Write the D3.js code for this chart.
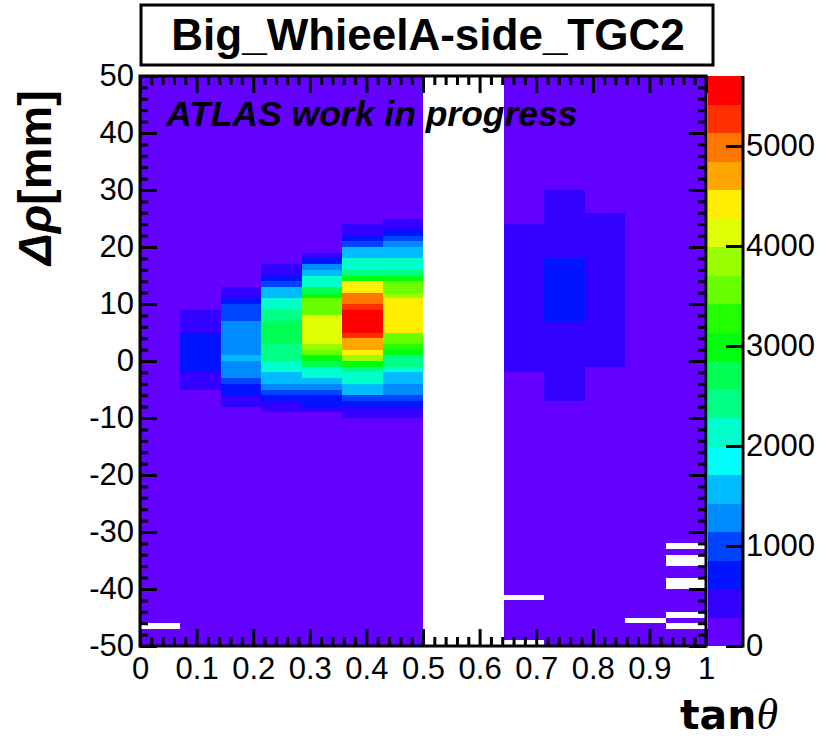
<!DOCTYPE html>
<html>
<head>
<meta charset="utf-8">
<script src="https://cdn.jsdelivr.net/npm/d3@7"></script>
<style>
  body { margin: 0; background: #fff; }
  text { font-family: "Liberation Sans", Arial, Helvetica, sans-serif; }
</style>
</head>
<body>
<script>
/* DATA */
var title = 'Big_WhieelA-side_TGC2';
var nBinsX = 14, xMin = 0, xMax = 1;
var yMin = -50, yMax = 50;          // 1 mm bins
var zMax = 5700, nLevels = 20;

var xTickLabels = ['0','0.1','0.2','0.3','0.4','0.5','0.6','0.7','0.8','0.9','1'];
var yTickLabels = ['-50','-40','-30','-20','-10','0','10','20','30','40','50'];
var zTickLabels = ['0','1000','2000','3000','4000','5000'];

// per x-bin runs: [rho low, rho high, entries]; later runs override earlier ones
var col0  = [[-50,50,140]];
var col1  = [[-50,50,140],[-5,-2,430],[-2,5,710],[5,9,430]];
var col2  = [[-50,50,140],[-8,-6,430],[-6,-4,710],[-4,-3,1000],[-3,0,1280],[0,1,1570],[1,7,1280],[7,10,1000],[10,11,710],[11,13,430]];
var col3  = [[-50,50,140],[-9,-7,430],[-7,-6,710],[-6,-5,1000],[-5,-4,1280],[-4,-2,1570],[-2,0,2140],[0,3,2420],[3,7,2700],[7,9,2420],[9,11,2140],[11,13,1570],[13,14,1000],[14,15,710],[15,17,430]];
var col4  = [[-50,50,140],[-9,-8,430],[-8,-6,710],[-6,-5,1000],[-5,-4,1280],[-4,-3,1570],[-3,-1,2140],[-1,0,2700],[0,1,2990],[1,2,3560],[2,3,3850],[3,8,4130],[8,11,3560],[11,12,2990],[12,13,2700],[13,15,2140],[15,16,1570],[16,17,1280],[17,18,710],[18,19,430]];
var col5  = [[-50,50,140],[-10,-8,430],[-8,-7,710],[-7,-6,1000],[-6,-4,1570],[-4,-2,2140],[-2,-1,2420],[-1,0,2990],[0,1,3850],[1,2,4420],[2,4,4700],[4,5,5270],[5,9,5560],[9,10,5270],[10,12,4990],[12,14,4420],[14,15,2990],[15,16,2420],[16,18,2140],[18,20,1570],[20,21,1000],[21,22,710],[22,24,430]];
var col6  = [[-50,50,140],[-10,-8,430],[-8,-7,710],[-7,-6,1000],[-6,-4,1280],[-4,-2,1570],[-2,-1,2140],[-1,1,2420],[1,2,2990],[2,3,3280],[3,5,3560],[5,11,4420],[11,12,3850],[12,14,3560],[14,15,2990],[15,16,2420],[16,18,2140],[18,20,1570],[20,21,1280],[21,22,1000],[22,23,710],[23,25,430]];
var col7  = [];
var col8  = [];
var col9  = [[-50,50,140],[-2,24,430]];
var col10 = [[-50,50,140],[-7,30,430],[7,18,710]];
var col11 = [[-50,50,140],[-1,26,430]];
var col12 = [[-50,50,140]];
var col13 = [[-50,50,140]];
var columns = [col0,col1,col2,col3,col4,col5,col6,col7,col8,col9,col10,col11,col12,col13];

// empty bins: [x bin, rho low edge]
var emptyBins = [[0,-47],[9,-42],[9,-50],[12,-46],[13,-33],[13,-36],[13,-35],[13,-40],[13,-39],[13,-45],[13,-47]];

/* LAYOUT */
var W = 826, H = 738;
var L = 140, R = 706, T = 76, B = 646;
var zx0 = 708, zx1 = 743;

var svg = d3.select('body').append('svg').attr('width', W).attr('height', H);

var x = d3.scaleLinear().domain([xMin, xMax]).range([L, R]);
var y = d3.scaleLinear().domain([yMin, yMax]).range([B, T]);
var z = d3.scaleLinear().domain([0, zMax]).range([B, T]);

// ROOT "pretty" palette (50 hues 280 -> 0) sampled for 20 contours
var palette = d3.range(nLevels).map(function(i){
  var k = Math.floor((i + 0.99) * 50 / nLevels);
  var hue = 280 - (k + 1) * 280 / 50;
  return d3.hsl(hue, 1, 0.5).formatHex();
});
var color = d3.scaleQuantize().domain([0, zMax]).range(palette);

/* BUILD CELLS */
var cells = [];
columns.forEach(function(runs, i){
  for (var lo = yMin; lo < yMax; lo++){
    var v = 0;
    runs.forEach(function(r){ if (lo >= r[0] && lo < r[1]) v = r[2]; });
    emptyBins.forEach(function(e){ if (e[0] === i && e[1] === lo) v = 0; });
    if (v > 0) cells.push({ i: i, lo: lo, v: v });
  }
});

svg.append('g').selectAll('rect')
  .data(cells)
  .enter().append('rect')
    .attr('x', function(d){ return x(d.i / nBinsX); })
    .attr('width', function(d){ return x((d.i + 1) / nBinsX) - x(d.i / nBinsX); })
    .attr('y', function(d){ return y(d.lo + 1); })
    .attr('height', function(d){ return y(d.lo) - y(d.lo + 1); })
    .attr('fill', function(d){ return color(d.v); })
    .attr('shape-rendering', 'crispEdges');

/* AXES */
var tickFont = 31;
function styleAxis(g){
  g.select('.domain').remove();
  g.selectAll('line').attr('stroke', '#000').attr('stroke-width', 3);
  g.selectAll('text').attr('font-size', tickFont).attr('fill', '#000');
}
var xMajor = xTickLabels.map(Number);
var yMajor = yTickLabels.map(Number);
var xMinor = d3.range(0, 50).map(function(k){ return k * 0.02; }).filter(function(v){ return Math.round(v * 50) % 5 !== 0; });
var yMinor = d3.range(-50, 50, 2).filter(function(v){ return v % 10 !== 0; });

// bottom
svg.append('g').attr('transform', 'translate(0,' + B + ')')
  .call(d3.axisBottom(x).tickValues(xMajor).tickSize(-17).tickPadding(10)
    .tickFormat(function(d, i){ return xTickLabels[i]; }))
  .call(styleAxis)
  .selectAll('text').attr('dy', '0.72em').attr('y', 11);
svg.append('g').attr('transform', 'translate(0,' + B + ')')
  .call(d3.axisBottom(x).tickValues(xMinor).tickSize(-9).tickFormat(''))
  .call(styleAxis);
// top
svg.append('g').attr('transform', 'translate(0,' + T + ')')
  .call(d3.axisTop(x).tickValues(xMajor).tickSize(-17).tickFormat(''))
  .call(styleAxis);
svg.append('g').attr('transform', 'translate(0,' + T + ')')
  .call(d3.axisTop(x).tickValues(xMinor).tickSize(-9).tickFormat(''))
  .call(styleAxis);
// left
svg.append('g').attr('transform', 'translate(' + L + ',0)')
  .call(d3.axisLeft(y).tickValues(yMajor).tickSize(-17).tickPadding(6)
    .tickFormat(function(d, i){ return yTickLabels[i]; }))
  .call(styleAxis);
svg.append('g').attr('transform', 'translate(' + L + ',0)')
  .call(d3.axisLeft(y).tickValues(yMinor).tickSize(-8).tickFormat(''))
  .call(styleAxis);
// right
svg.append('g').attr('transform', 'translate(' + R + ',0)')
  .call(d3.axisRight(y).tickValues(yMajor).tickSize(-17).tickFormat(''))
  .call(styleAxis);
svg.append('g').attr('transform', 'translate(' + R + ',0)')
  .call(d3.axisRight(y).tickValues(yMinor).tickSize(-8).tickFormat(''))
  .call(styleAxis);

// frame
svg.append('rect')
  .attr('x', L).attr('y', T).attr('width', R - L).attr('height', B - T)
  .attr('fill', 'none').attr('stroke', '#000').attr('stroke-width', 3);

/* COLOUR BAR */
var levels = d3.range(nLevels);
svg.append('g').selectAll('rect')
  .data(levels)
  .enter().append('rect')
    .attr('x', zx0)
    .attr('width', zx1 - zx0)
    .attr('y', function(d){ return z((d + 1) * zMax / nLevels); })
    .attr('height', function(d){ return z(d * zMax / nLevels) - z((d + 1) * zMax / nLevels); })
    .attr('fill', function(d){ return palette[d]; })
    .attr('shape-rendering', 'crispEdges');

svg.append('g').attr('transform', 'translate(' + zx1 + ',0)')
  .call(d3.axisRight(z).tickValues(zTickLabels.map(Number)).tickSize(-17).tickPadding(3)
    .tickFormat(function(d, i){ return zTickLabels[i]; }))
  .call(styleAxis);
svg.append('line')
  .attr('x1', zx1).attr('x2', zx1).attr('y1', T).attr('y2', B + 1.5)
  .attr('stroke', '#000').attr('stroke-width', 3);

/* TITLE BOX */
svg.append('rect')
  .attr('x', 141).attr('y', 5).attr('width', 572).attr('height', 60)
  .attr('fill', '#fff').attr('stroke', '#000').attr('stroke-width', 3);
svg.append('text')
  .attr('x', 428).attr('y', 50)
  .attr('text-anchor', 'middle')
  .attr('font-size', 44).attr('font-weight', 'bold')
  .text(title);

/* LABELS */
svg.append('text')
  .attr('x', 166).attr('y', 126)
  .attr('font-size', 35.5).attr('font-weight', 'bold').attr('font-style', 'italic')
  .text('ATLAS work in progress');

var yt = svg.append('text')
  .attr('transform', 'translate(51,90) rotate(-90)')
  .attr('text-anchor', 'end')
  .attr('font-size', 47).attr('font-weight', 'bold');
yt.append('tspan').attr('font-style', 'italic').text('\u0394\u03C1');
yt.append('tspan').text('[mm]');

var xt = svg.append('text')
  .attr('x', 778).attr('y', 729)
  .attr('text-anchor', 'end')
  .attr('font-size', 41);
xt.append('tspan').attr('font-family', '"DejaVu Sans"').attr('font-weight', 'bold').text('tan');
xt.append('tspan').attr('font-family', '"Liberation Serif"').attr('font-style', 'italic').attr('font-size', 44).text('\u03B8');
</script>
</body>
</html>
